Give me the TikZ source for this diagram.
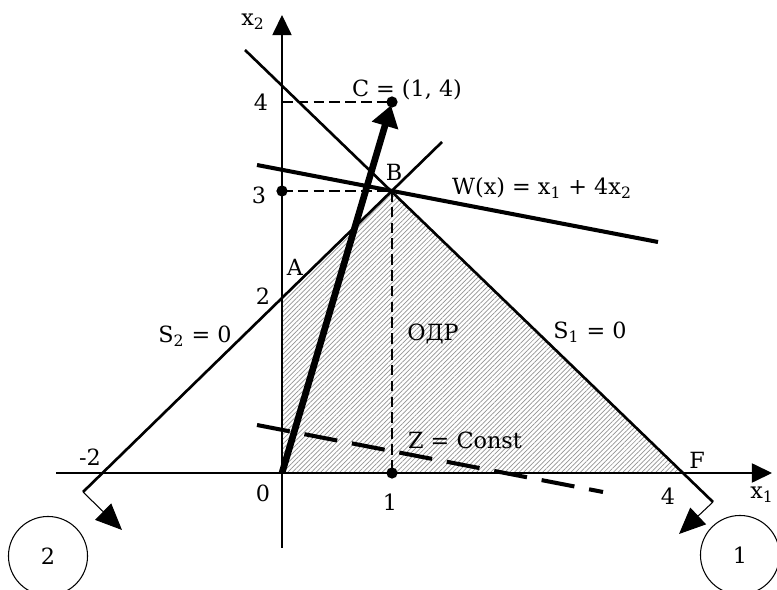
\documentclass[tikz,border=0pt]{standalone}
\usepackage{fontspec}
\setmainfont{DejaVu Serif}
\usetikzlibrary{arrows.meta,patterns.meta}

\begin{document}
\begin{tikzpicture}[
    x=0.02cm, y=-0.02cm,
    lbl/.style={font=\fontsize{12.7}{14}\selectfont, inner sep=0pt},
    axis/.style={line width=0.7pt, -{Triangle[length=11.5pt, width=11pt]}},
    guide/.style={line width=0.8pt, dash pattern=on 6pt off 3pt},
    bound/.style={line width=1.5pt},
    normal/.style={line width=0.6pt, -{Triangle[length=15pt, width=13pt]}},
    grad/.style={line width=3.8pt, -{Triangle[length=12pt, width=15pt]}, shorten >=2pt},
    tag/.style={circle, draw, line width=0.6pt, minimum size=45pt, inner sep=0pt, font=\fontsize{12.7}{14}\selectfont}
]
    \useasboundingbox (0,0) rectangle (777,590);
    \clip (0,0) rectangle (777,590);

    \coordinate (O) at (282,473);
    \coordinate (A) at (282,299);
    \coordinate (B) at (392,191);
    \coordinate (C) at (392,102);
    \coordinate (F) at (683,473);
    \coordinate (Y4) at (282,102);
    \coordinate (Y3) at (282,191);
    \coordinate (X1) at (392,473);
    \coordinate (s2a) at (83,492);
    \coordinate (s2b) at (442,142);
    \coordinate (s1a) at (245,50);
    \coordinate (s1b) at (713,502);
    \coordinate (wa) at (257,165);
    \coordinate (wb) at (658,242);
    \coordinate (za) at (257,425);
    \coordinate (zb) at (603,492);
    \coordinate (n2) at (122,530);
    \coordinate (n1) at (679,534);

    \fill[pattern={Lines[angle=45, distance=1.9pt, line width=0.4pt]}, pattern color=gray!85]
        (O) -- (A) -- (B) -- (F) -- cycle;

    \draw[axis] (56,473) -- (772,473);
    \draw[axis] (282,548) -- (282,15);

    \draw[guide] (Y4) -- (C);
    \draw[guide] (Y3) -- (B);
    \draw[guide] (B) -- (X1);

    \draw[bound] (s2a) -- (s2b);
    \draw[bound] (s1a) -- (s1b);
    \draw[line width=2.3pt] (wa) -- (wb);
    \draw[line width=2.3pt, dash pattern=on 19pt off 8.5pt] (za) -- (zb);
    \draw[grad] (O) -- (C);

    \draw[normal] (s2a) -- (n2);
    \draw[normal] (s1b) -- (n1);

    \fill (C) circle[radius=3.2pt];
    \fill (Y3) circle[radius=3.2pt];
    \fill (X1) circle[radius=3.2pt];

    \node[lbl] (lx2) at (253,22) {x\textsubscript{2}};
    \node[lbl] (lx1) at (762,495) {x\textsubscript{1}};
    \node[lbl] (ly4) at (261,102) {4};
    \node[lbl] (ly3) at (259,195) {3};
    \node[lbl] (ly2) at (263,296) {2};
    \node[lbl] (l0) at (263,493) {0};
    \node[lbl] (lx1v) at (390,502) {1};
    \node[lbl] (lx4v) at (668,496) {4};
    \node[lbl] (lm2) at (90,457) {-2};
    \node[lbl] (lA) at (295,267) {A};
    \node[lbl] (lB) at (394,172) {B};
    \node[lbl] (lC) at (407,90) {C = (1, 4)};
    \node[lbl] (lF) at (697,460) {F};
    \node[lbl] (ls2) at (195,336) {S\textsubscript{2} = 0};
    \node[lbl] (ls1) at (590,332) {S\textsubscript{1} = 0};
    \node[lbl] (lodr) at (433,334) {ОДР};
    \node[lbl] (lz) at (465,440) {Z = Const};
    \node[lbl] (lw) at (542,188) {W(x) = x\textsubscript{1} + 4x\textsubscript{2}};

    \node[tag] (c2) at (48,556) {2};
    \node[tag] (c1) at (740,555) {1};
\end{tikzpicture}
\end{document}
